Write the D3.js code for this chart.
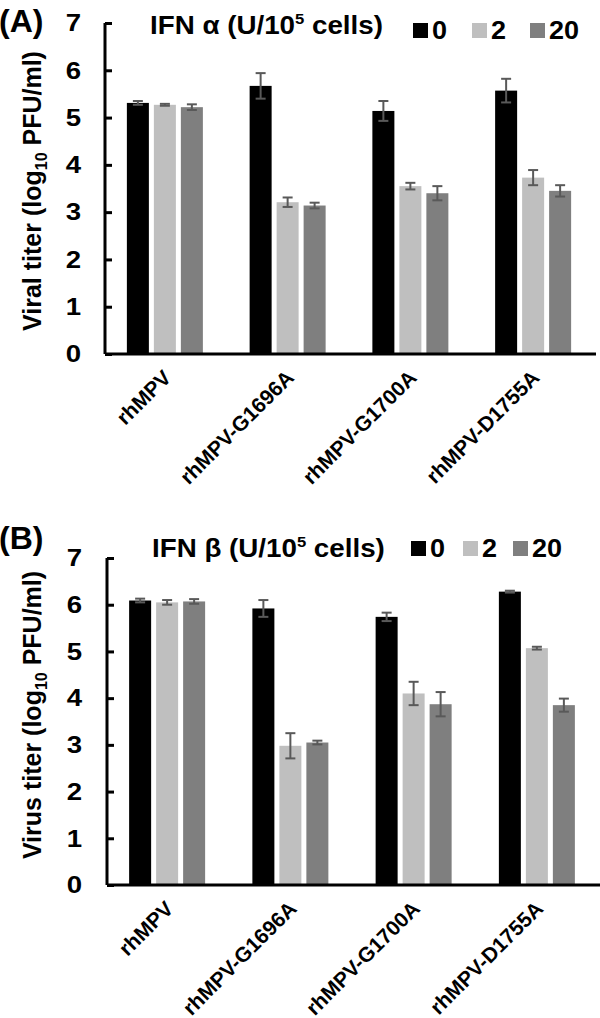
<!DOCTYPE html>
<html><head><meta charset="utf-8">
<script src="https://cdn.jsdelivr.net/npm/d3@7/dist/d3.min.js"></script>
<style>
html,body{margin:0;padding:0;background:#fff;}
text{font-family:"Liberation Sans",Arial,sans-serif;font-weight:bold;fill:#000;}
</style></head>
<body><svg id="chart" width="600" height="1018"></svg>
<script>
const categories = ["rhMPV","rhMPV-G1696A","rhMPV-G1700A","rhMPV-D1755A"];
const seriesNames = ["0","2","20"];
const yTicks = [0,1,2,3,4,5,6,7];
// Panel A: IFN alpha
const ifnA_0 = [5.31,5.67,5.14,5.57];
const ifnA_0_err = [0.04,0.27,0.21,0.25];
const ifnA_2 = [5.27,3.21,3.55,3.73];
const ifnA_2_err = [0.02,0.10,0.07,0.16];
const ifnA_20 = [5.22,3.14,3.40,3.45];
const ifnA_20_err = [0.06,0.06,0.15,0.12];
// Panel B: IFN beta
const ifnB_0 = [6.09,5.92,5.74,6.28];
const ifnB_0_err = [0.04,0.18,0.09,0.02];
const ifnB_2 = [6.05,2.98,4.10,5.07];
const ifnB_2_err = [0.05,0.27,0.25,0.03];
const ifnB_20 = [6.07,3.05,3.87,3.85];
const ifnB_20_err = [0.05,0.04,0.26,0.14];

const colors = ["#000000","#bfbfbf","#7f7f7f"];
const svg = d3.select("#chart");

function panel(cfg){
  const g = svg.append("g");
  const x = d3.scaleBand().domain(categories).range([cfg.x0, cfg.x1]).padding(0);
  const bw = x.bandwidth();
  const xs = d3.scaleBand().domain(seriesNames).range([bw/2-38-1.5, bw/2+38-1.5]).paddingInner(0.185).paddingOuter(0);
  const y = d3.scaleLinear().domain([0,7]).range([cfg.y0, cfg.yTop]);

  const rows = [];
  cfg.values.forEach((vals,si)=>{
    vals.forEach((v,ci)=>rows.push({cat:categories[ci], s:seriesNames[si], si, v, e:cfg.errs[si][ci]}));
  });
  g.selectAll("rect.bar").data(rows).join("rect").attr("class","bar")
    .attr("x", d=>x(d.cat)+xs(d.s)).attr("width", xs.bandwidth())
    .attr("y", d=>y(d.v)).attr("height", d=>y(0)-y(d.v))
    .attr("fill", d=>colors[d.si]);
  // error bars
  const cx = d=>x(d.cat)+xs(d.s)+xs.bandwidth()/2;
  const eg = g.selectAll("g.err").data(rows).join("g").attr("class","err")
    .attr("stroke","#595959").attr("stroke-width",2);
  eg.append("line").attr("x1",cx).attr("x2",cx)
    .attr("y1",d=>y(d.v+d.e)).attr("y2",d=>y(d.v-d.e));
  eg.append("line").attr("x1",d=>cx(d)-5).attr("x2",d=>cx(d)+5)
    .attr("y1",d=>y(d.v+d.e)).attr("y2",d=>y(d.v+d.e));
  eg.append("line").attr("x1",d=>cx(d)-5).attr("x2",d=>cx(d)+5)
    .attr("y1",d=>y(d.v-d.e)).attr("y2",d=>y(d.v-d.e));

  // y axis
  const ya = d3.axisRight(y).tickValues(yTicks).tickSize(7).tickFormat("");
  const yg = g.append("g").attr("transform",`translate(${cfg.x0},0)`).call(ya);
  yg.select(".domain").attr("stroke","#000").attr("stroke-width",3).attr("d",`M0,${cfg.yTop}V${cfg.y0}`);
  yg.selectAll(".tick line").attr("stroke","#000").attr("stroke-width",3);
  g.selectAll("text.ytl").data(yTicks).join("text").attr("class","ytl")
    .attr("x", cfg.tickLabelX).attr("y", d=>y(d)).attr("dy","0.36em")
    .attr("text-anchor","end").style("font-size","23px")
    .attr("transform", d=>`translate(${cfg.tickLabelX},${y(d)}) scale(1.2,1) translate(${-cfg.tickLabelX},${-y(d)})`)
    .text(d=>d);
  // x axis
  const xa = d3.axisBottom(x).tickSize(0).tickFormat("");
  const xg = g.append("g").attr("transform",`translate(0,${cfg.y0})`).call(xa);
  xg.select(".domain").attr("stroke","#000").attr("stroke-width",3).attr("d",`M${cfg.x0},0H${cfg.x1}`);
  g.selectAll("text.xl").data(categories).join("text").attr("class","xl")
    .attr("text-anchor","end").style("font-size","21px")
    .attr("transform", d=>`translate(${x(d)+bw/2+6},${cfg.y0+25}) rotate(-45)`)
    .text(d=>d);
  // y label
  const yl = g.append("text").attr("text-anchor","middle").style("font-size","25px")
    .attr("transform",`translate(${cfg.yLabelX},${cfg.yLabelY}) rotate(-90)`);
  yl.append("tspan").text(cfg.yLabel+" (log");
  yl.append("tspan").attr("dy","6").style("font-size","16px").text("10");
  yl.append("tspan").attr("dy","-6").text(" PFU/ml)");
  // panel letter
  g.append("text").attr("x",-1).attr("y",cfg.letterY).style("font-size","32px").text(cfg.letter);
  // title
  const t = g.append("text").attr("x",cfg.titleX).attr("y",cfg.titleY).style("font-size","25px")
    .attr("transform",`translate(${cfg.titleX},0) scale(1.11,1) translate(${-cfg.titleX},0)`);
  t.append("tspan").text(cfg.title+" (U/10");
  t.append("tspan").attr("dy","-10").style("font-size","15px").text("5");
  t.append("tspan").attr("dy","10").text(" cells)");
  // legend
  const lg = g.selectAll("g.leg").data(seriesNames).join("g").attr("class","leg");
  lg.append("rect").attr("x",(d,i)=>cfg.legX[i]).attr("y",cfg.legY-15).attr("width",15).attr("height",15)
    .attr("fill",(d,i)=>colors[i]);
  lg.append("text").attr("x",(d,i)=>cfg.legX[i]+19).attr("y",cfg.legY+1).style("font-size","25px")
    .attr("transform",(d,i)=>`translate(${cfg.legX[i]+19},0) scale(1.08,1) translate(${-(cfg.legX[i]+19)},0)`)
    .text(d=>d);
}

panel({x0:105,x1:596,y0:354,yTop:23,tickLabelX:81,
  values:[ifnA_0,ifnA_2,ifnA_20], errs:[ifnA_0_err,ifnA_2_err,ifnA_20_err],
  yLabel:"Viral titer", yLabelX:41, yLabelY:191, letter:"(A)", letterY:32,
  title:"IFN α", titleX:150, titleY:34, legX:[413,472,530], legY:38});
panel({x0:107,x1:600,y0:885,yTop:558,tickLabelX:82,
  values:[ifnB_0,ifnB_2,ifnB_20], errs:[ifnB_0_err,ifnB_2_err,ifnB_20_err],
  yLabel:"Virus titer", yLabelX:41, yLabelY:715, letter:"(B)", letterY:549,
  title:"IFN β", titleX:152, titleY:557, legX:[411,463,513], legY:556});
</script></body></html>
